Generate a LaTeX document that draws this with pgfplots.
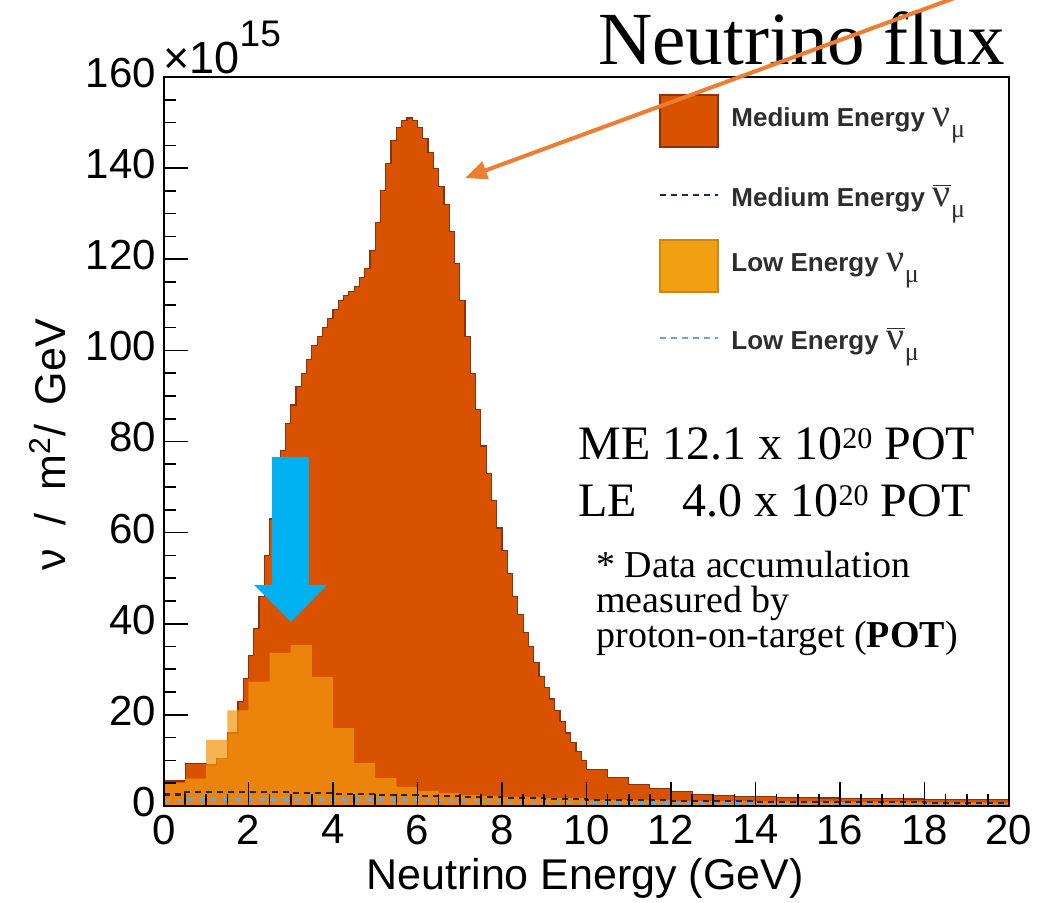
\documentclass[border=0pt]{standalone}
\usepackage{pgfplots}
\usepackage{pgfplotstable}
\pgfplotsset{compat=1.18}
\usepackage{fontspec}
\setmainfont{Liberation Sans}
\newfontfamily\serif{Liberation Serif}
\usetikzlibrary{arrows.meta}
\definecolor{mecol}{RGB}{217,82,0}
\definecolor{meedge}{RGB}{140,50,15}
\definecolor{lecol}{RGB}{244,150,14}
\definecolor{lebox}{RGB}{240,160,16}
\definecolor{mebar}{RGB}{30,40,80}
\definecolor{lebar}{RGB}{110,165,215}
\definecolor{bluearrow}{RGB}{0,176,240}
\definecolor{orarrow}{RGB}{237,125,49}

\pgfplotstableread{
x y
0 5.5
0.5 9.3
1.0 9.0
1.25 10.5
1.5 16
1.75 23
1.875 28
2.0 33
2.125 39
2.25 46
2.375 55
2.5 63
2.625 71
2.75 78
2.875 84
3.0 88
3.125 92
3.25 95
3.375 98
3.5 101
3.625 103
3.75 105
3.875 107
4.0 109
4.125 111
4.25 112
4.375 113
4.5 114
4.625 116
4.75 118
4.875 122
5.0 128
5.125 135
5.25 141
5.375 146
5.5 149
5.625 150.5
5.75 151
5.875 150.5
6.0 149
6.125 146.5
6.25 143.5
6.375 140
6.5 136
6.625 132
6.75 126
6.875 119
7.0 111
7.125 103
7.25 95
7.375 87
7.5 79
7.625 73
7.75 67
7.875 61
8.0 56
8.125 51
8.25 46
8.375 42
8.5 38
8.625 35
8.75 31.5
8.875 28.5
9.0 26
9.125 23.5
9.25 21
9.375 18.5
9.5 16
9.625 14
9.75 12
9.875 10
10 8
10.5 6.2
11 4.8
11.5 3.8
12 3.1
12.5 2.6
13 2.3
13.5 2.1
14 2.0
14.5 1.9
15 1.8
15.5 1.75
16 1.7
16.5 1.65
17 1.6
17.5 1.55
18 1.5
18.5 1.45
19 1.4
19.5 1.35
20 1.35
}\MEnu

\pgfplotstableread{
x y
0 5
0.5 6
1.0 14.5
1.5 21
2.0 27.3
2.5 33.6
3.0 35.3
3.5 28.3
4.0 17.1
4.5 9.4
5.0 6.1
5.5 4.2
6.0 3.3
6.5 2.8
7.0 2.4
7.5 2.2
8.0 2.0
9.0 1.7
10 1.3
12 1.1
14 1.0
16 0.9
18 0.8
20 0.8
}\LEnu

\pgfplotstableread{
x y
0 2.5
0.5 3.0
2 3.0
3 2.8
4 2.6
5 2.4
6 2.2
7 2.0
8 1.8
9 1.6
10 1.4
12 1.1
14 0.9
16 0.8
18 0.7
20 0.7
}\MEbar

\pgfplotstableread{
x y
0 1.2
0.5 1.5
2 1.5
4 1.4
6 1.1
8 0.8
10 0.6
14 0.4
20 0.3
}\LEbar

\newcommand{\nuf}{{\serif\fontsize{20}{20}\selectfont ν}\raisebox{-0.42em}{\serif\fontsize{13}{13}\selectfont μ}}
\newcommand{\nubarf}{\ensuremath{\overline{\hbox{\serif\fontsize{20}{20}\selectfont ν}}}\raisebox{-0.42em}{\serif\fontsize{13}{13}\selectfont μ}}
\newcommand{\supt}{\raisebox{5.6pt}{\fontsize{15}{15}\selectfont 20}}

\begin{document}
\begin{tikzpicture}
\path[use as bounding box] (-82pt,-48.5pt) rectangle (438.5pt,403pt);
\begin{axis}[
  at={(0,0)}, anchor=south west,
  scale only axis, width=422.5pt, height=364.5pt,
  xmin=0, xmax=20, ymin=0, ymax=160,
  axis on top,
  axis line style={line width=1pt},
  tick style={line width=0.8pt, black},
  tick align=inside, tick pos=left,
  xtick={0,2,...,20}, ytick={0,20,...,160},
  minor x tick num=3, minor y tick num=3,
  major tick length=12pt, minor tick length=6pt,
  scaled ticks=false,
  /pgf/number format/assume math mode=true,
  ticklabel style={font=\fontsize{21}{24}\selectfont},
  yticklabel style={xshift=-0.5pt, yshift=2pt},
  xticklabel style={yshift=-1pt},
]
\addplot[const plot mark left, fill=mecol, draw=meedge, line width=0.6pt] table {\MEnu} \closedcycle;
\addplot[const plot mark left, fill=lecol, fill opacity=0.72, draw=none] table {\LEnu} \closedcycle;
\addplot[const plot mark left, lebar, dash pattern=on 3pt off 3pt, line width=1.5pt] table {\LEbar};
\addplot[const plot mark left, mebar, dash pattern=on 3pt off 2.5pt, line width=1.1pt] table {\MEbar};
\end{axis}

\begin{scope}[x=0.5pt,y=-0.5pt,shift={(-82pt,403pt)}]
% x10^15
\node[anchor=base west, inner sep=0pt, font=\fontsize{22.5}{24}\selectfont] at (163,74) {×10\raisebox{0.6em}{\fontsize{18.5}{19}\selectfont 15}};
% axis labels
\node[font=\fontsize{21.5}{24}\selectfont] at (585,878) {Neutrino Energy (GeV)};
\node[rotate=90, font=\fontsize{21.5}{24}\selectfont] at (48,445) {ν\hspace{0.55em}/\hspace{0.55em}m\textsuperscript{2}/\hspace{0.45em}GeV};
% legend
\fill[mecol, draw=meedge, line width=0.8pt] (660,95) rectangle (718,147);
\node[anchor=base west, inner sep=0pt, text=black!82, font=\fontsize{13}{15}\selectfont\bfseries] at (731,127) {Medium Energy\hspace{4pt}\mdseries\nuf};
\draw[mebar, dash pattern=on 3pt off 2.5pt, line width=0.9pt] (660,195) -- (718,195);
\node[anchor=base west, inner sep=0pt, text=black!82, font=\fontsize{13}{15}\selectfont\bfseries] at (731,207) {Medium Energy\hspace{4pt}\mdseries\nubarf};
\fill[lebox, draw=lebox!85!black, line width=0.8pt] (660,240) rectangle (718,292);
\node[anchor=base west, inner sep=0pt, text=black!82, font=\fontsize{13}{15}\selectfont\bfseries] at (731,272) {Low Energy\hspace{4pt}\mdseries\nuf};
\draw[lebar, dash pattern=on 3pt off 2.5pt, line width=1.3pt] (660,338) -- (718,338);
\node[anchor=base west, inner sep=0pt, text=black!82, font=\fontsize{13}{15}\selectfont\bfseries] at (731,350) {Low Energy\hspace{4pt}\mdseries\nubarf};
% annotations
\node[anchor=base west, inner sep=0pt, font=\serif\fontsize{24}{28}\selectfont] at (578,460) {ME 12.1 x 10\supt{} POT};
\node[anchor=base west, inner sep=0pt, font=\serif\fontsize{24}{28}\selectfont] at (578,517) {LE\hspace{0.95em}4.0 x 10\supt{} POT};
\node[anchor=base west, inner sep=0pt, font=\serif\fontsize{19}{22}\selectfont] at (596,578) {* Data accumulation};
\node[anchor=base west, inner sep=0pt, font=\serif\fontsize{19}{22}\selectfont] at (596,613) {measured by};
\node[anchor=base west, inner sep=0pt, font=\serif\fontsize{19}{22}\selectfont] at (596,648) {proton-on-target (\textbf{POT})};
\node[anchor=base east, inner sep=0pt, font=\serif\fontsize{37.5}{40}\selectfont] at (1005,65) {Neutrino flux};
% blue arrow
\fill[bluearrow] (272,457) -- (309,457) -- (309,585) -- (327,585) -- (291,622) -- (254,585) -- (272,585) -- cycle;
% orange arrow
\draw[orarrow, line width=2pt, -{Triangle[length=11pt,width=9pt]}] (960,-4) -- (465,178);
\end{scope}
\end{tikzpicture}
\end{document}
